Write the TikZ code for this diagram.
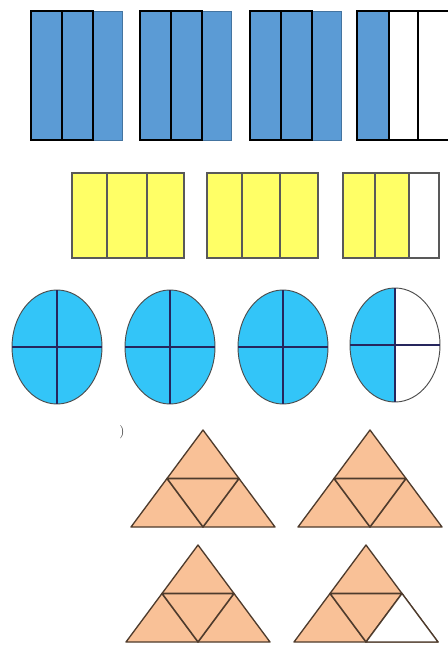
\documentclass[tikz,border=0pt]{standalone}
\usepackage{tikz}
\definecolor{barblue}{HTML}{5B9BD5}
\definecolor{baryellow}{HTML}{FFFF66}
\definecolor{ovalblue}{HTML}{33C5F8}
\definecolor{tripeach}{HTML}{F9C197}
\definecolor{tribrown}{HTML}{4E3B2C}
\tikzset{
  barline/.style={line width=1.8pt, black},
  barsplit/.style={line width=1.1pt, black},
  yellowline/.style={line width=0.8pt, gray!70!black},
  ovalline/.style={line width=0.8pt, blue!25!black!85},
  triline/.style={line width=1.2pt, tribrown, line join=round},
}
\begin{document}
\begin{tikzpicture}[x=0.75pt, y=-0.75pt]
	\clip (0,0) rectangle (448,646);
	\fill[white] (0,0) rectangle (448,646);
	% thirds in blue
	\foreach \x in {31,140,250}{
		\fill[barblue] (\x,11) rectangle +(91,129);
		\draw[barblue!75!black, line width=0.5pt] (\x+62,11) rectangle +(29,129);
		\draw[barline] (\x,11) rectangle +(62,129);
		\draw[barsplit] (\x+31,11) -- +(0,129);
	}
	\fill[barblue] (357,11) rectangle (389,140);
	\draw[barline] (357,11) rectangle (470,140);
	\draw[barsplit] (389,11) -- (389,140);
	\draw[barsplit] (418,11) -- (418,140);
	% thirds in yellow
	\foreach \a/\b/\c/\d in {72/107/147/184, 207/242/280/318}{
		\fill[baryellow] (\a,173) rectangle (\d,258);
		\draw[yellowline] (\a,173) rectangle (\d,258);
		\draw[yellowline] (\b,173) -- (\b,258);
		\draw[yellowline] (\c,173) -- (\c,258);
	}
	\fill[baryellow] (343,173) rectangle (409,258);
	\draw[yellowline] (343,173) rectangle (439,258);
	\draw[yellowline] (375,173) -- (375,258);
	\draw[yellowline] (409,173) -- (409,258);
	% quarters of ovals
	\foreach \cx/\cy in {57/347, 170/347, 283/347}{
		\filldraw[ovalblue, draw=gray!60!black, line width=0.7pt] (\cx,\cy) ellipse [x radius=45, y radius=57];
		\draw[ovalline] (\cx-45,\cy) -- (\cx+45,\cy);
		\draw[ovalline] (\cx,\cy-57) -- (\cx,\cy+57);
	}
	\begin{scope}
		\clip (340,280) rectangle (395,410);
		\fill[ovalblue] (395,345) ellipse [x radius=45, y radius=57];
	\end{scope}
	\draw[gray!60!black, line width=0.7pt] (395,345) ellipse [x radius=45, y radius=57];
	\draw[ovalline] (350,345) -- (440,345);
	\draw[ovalline] (395,288) -- (395,402);
	% quarters of triangles
	\node[inner sep=0pt, text=black!80] (stray) at (122,432) {)};
	\foreach \ax/\ay in {203/430, 370/430, 198/545, 366/545}{
		\filldraw[tripeach, draw=tribrown, line width=1pt, line join=round]
			(\ax,\ay) -- (\ax-72,\ay+97) -- (\ax+72,\ay+97) -- cycle;
		\draw[triline] (\ax-36,\ay+48.5) -- (\ax+36,\ay+48.5) -- (\ax,\ay+97) -- cycle;
	}
	\filldraw[white, draw=tribrown, line width=1pt, line join=round]
		(402,593.5) -- (366,642) -- (438,642) -- cycle;
\end{tikzpicture}
\end{document}
